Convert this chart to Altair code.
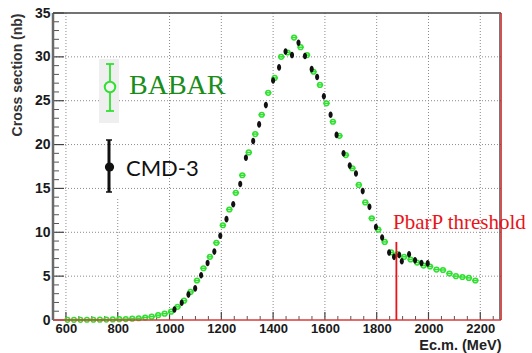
import altair as alt
import pandas as pd

# ---------------- data ----------------
babar_E = [606, 631, 656, 681, 706, 731, 756, 781, 806, 831, 856, 881, 906, 931, 956, 981,
           1006, 1031, 1056, 1081, 1106, 1131, 1156, 1181, 1206, 1231, 1256, 1281, 1306, 1331,
           1356, 1381, 1406, 1431, 1456, 1481, 1506, 1531, 1556, 1581, 1606, 1631, 1656, 1681,
           1706, 1731, 1756, 1781, 1806, 1831, 1856, 1881, 1906, 1931, 1956, 1981, 2006, 2031,
           2056, 2081, 2106, 2131, 2156, 2181]
babar_sigma = [0.02, 0.02, 0.02, 0.03, 0.03, 0.04, 0.05, 0.07, 0.09, 0.11, 0.15, 0.2, 0.28, 0.38,
               0.55, 0.72, 0.95, 1.5, 2.2, 3.2, 4.5, 5.9, 7.2, 8.8, 10.8, 12.6, 14.5, 16.5, 19.1,
               21.2, 23.4, 25.9, 27.6, 30.0, 30.5, 32.2, 31.1, 30.2, 28.3, 26.8, 24.7, 22.6, 21.0,
               18.8, 17.3, 15.4, 13.4, 11.6, 10.3, 8.9, 7.7, 7.5, 7.2, 6.9, 6.55, 6.2, 6.1, 5.75,
               5.7, 5.3, 5.0, 4.9, 4.8, 4.5]
babar_halfbin = 12.5

cmd_E = [1019, 1047, 1073, 1099, 1122, 1147, 1173, 1196, 1220, 1246, 1273, 1295, 1323, 1346,
         1372, 1400, 1423, 1448, 1473, 1498, 1523, 1549, 1570, 1596, 1622, 1645, 1672, 1696,
         1720, 1746, 1772, 1797, 1821, 1848, 1867, 1887, 1897, 1925, 1948, 1973, 1997]
cmd_sigma = [1.2, 1.97, 2.9, 3.6, 5.1, 6.5, 7.8, 9.6, 11.5, 13.2, 15.5, 18.5, 20.4, 22.3,
             24.5, 27.3, 28.8, 30.6, 30.2, 31.6, 30.1, 28.6, 27.7, 25.5, 23.4, 21.1, 19.0, 17.6,
             16.7, 14.7, 12.9, 10.6, 9.4, 7.7, 7.2, 7.4, 6.7, 7.5, 6.8, 6.5, 6.45]

x_ticks = [600, 800, 1000, 1200, 1400, 1600, 1800, 2000, 2200]
x_grid_top = [35, 13.9, 35, 35, 35, 35, 35, 35, 35]
y_ticks = [0, 5, 10, 15, 20, 25, 30, 35]
y_grid = [5, 10, 15, 20, 25, 30]
x_minor = [v for v in range(550, 2251, 50) if v % 200 != 0]
y_minor = [v for v in range(0, 36) if v % 5 != 0]

threshold_E = [1876]
threshold_top = [8.9]

X_DOMAIN = [550, 2280]
Y_DOMAIN = [0, 35]
W, H = 448, 307

GREEN = "#30e030"
GREEN_TEXT = "#1a8c1a"
RED = "#e8141a"
GRID = "#8a8a8a"
FONT = "Liberation Sans"

xs = alt.Scale(domain=X_DOMAIN, nice=False, zero=False)
ys = alt.Scale(domain=Y_DOMAIN, nice=False, zero=False)

X_AX = alt.Axis(
    values=x_ticks, format="d", ticks=False, domain=False, grid=False,
    labelFont=FONT, labelFontSize=13, labelFontWeight="bold", labelColor="#1a1a1a",
    labelPadding=2, labelFlush=False,
    title="Ec.m. (MeV)", titleFont=FONT, titleFontSize=14.5, titleFontWeight="bold",
    titleColor="#222222", titleX=W, titleY=29, titleAlign="right",
    titleBaseline="alphabetic", titleAngle=0)
Y_AX = alt.Axis(
    values=y_ticks, ticks=False, domain=False, grid=False,
    labelFont=FONT, labelFontSize=14, labelFontWeight="bold", labelColor="#1a1a1a",
    labelPadding=3, labelFlush=False,
    title="Cross section (nb)", titleFont=FONT, titleFontSize=14, titleFontWeight="bold",
    titleColor="#333333", titleX=-36, titleY=0, titleAlign="right",
    titleBaseline="middle", titleAngle=270)


def X(f):
    return alt.X(f, scale=xs, axis=X_AX)


def Y(f):
    return alt.Y(f, scale=ys, axis=Y_AX)


one = pd.DataFrame({"k": [0]})

# ---------------- grid ----------------
vgrid_df = pd.DataFrame({"E": x_ticks, "lo": [0] * len(x_ticks), "hi": x_grid_top})
vgrid = alt.Chart(vgrid_df).mark_rule(color=GRID, strokeDash=[1, 2], strokeWidth=1).encode(
    x=X("E:Q"), y=Y("lo:Q"), y2="hi:Q")

hgrid = alt.Chart(pd.DataFrame({"v": y_grid})).mark_rule(
    color=GRID, strokeDash=[1, 2], strokeWidth=1).encode(
    y=Y("v:Q"), x=alt.value(0), x2=alt.value(W))

# ticks (inward)
ytick_minor = alt.Chart(pd.DataFrame({"v": y_minor})).mark_rule(color="#555555", strokeWidth=1).encode(
    y=Y("v:Q"), x=alt.value(0), x2=alt.value(6))
ytick_major = alt.Chart(pd.DataFrame({"v": y_ticks})).mark_rule(color="#444444", strokeWidth=1.2).encode(
    y=Y("v:Q"), x=alt.value(0), x2=alt.value(11))
xtick_minor = alt.Chart(pd.DataFrame({"v": x_minor})).mark_rule(color="#555555", strokeWidth=1).encode(
    x=X("v:Q"), y=alt.value(H), y2=alt.value(H - 4))
xtick_major = alt.Chart(pd.DataFrame({"v": x_ticks})).mark_rule(color="#444444", strokeWidth=1.2).encode(
    x=X("v:Q"), y=alt.value(H), y2=alt.value(H - 8))

# frame
left_b = alt.Chart(one).mark_rule(color="#6a6a6a", strokeWidth=2.5).encode(
    x=alt.value(0), y=alt.value(0), y2=alt.value(H))
top_b = alt.Chart(one).mark_rule(color="#444444", strokeWidth=1.5).encode(
    x=alt.value(0), x2=alt.value(W), y=alt.value(0))
right_g = alt.Chart(one).mark_rule(color="#777777", strokeWidth=1).encode(
    x=alt.value(W - 1.5), y=alt.value(0), y2=alt.value(H))
right_b = alt.Chart(one).mark_rule(color="#c01818", strokeWidth=1.5).encode(
    x=alt.value(W), y=alt.value(0), y2=alt.value(H))
bottom_b = alt.Chart(one).mark_rule(color="#d83a3a", strokeWidth=1.5).encode(
    x=alt.value(0), x2=alt.value(W), y=alt.value(H))

# ---------------- data marks ----------------
babar_df = pd.DataFrame({"E": babar_E, "sigma": babar_sigma})
babar_df["lo"] = babar_df["E"] - babar_halfbin
babar_df["hi"] = babar_df["E"] + babar_halfbin

babar_bars = alt.Chart(babar_df).mark_rule(color=GREEN, strokeWidth=1.5).encode(
    x=X("lo:Q"), x2="hi:Q", y=Y("sigma:Q"))
babar_pts = alt.Chart(babar_df).mark_point(
    shape="circle", size=22, filled=False, color=GREEN, strokeWidth=1.5, opacity=1).encode(
    x=X("E:Q"), y=Y("sigma:Q"))

cmd_df = pd.DataFrame({"E": cmd_E, "sigma": cmd_sigma})
ELLIPSE = "M -0.62 0 A 0.62 1 0 1 0 0.62 0 A 0.62 1 0 1 0 -0.62 0 Z"
cmd_pts = alt.Chart(cmd_df).mark_point(
    shape=ELLIPSE, size=44, filled=True, color="#111111", opacity=1).encode(
    x=X("E:Q"), y=Y("sigma:Q"))

# threshold
thr_df = pd.DataFrame({"E": threshold_E, "lo": [0], "hi": threshold_top})
thr = alt.Chart(thr_df).mark_rule(color=RED, strokeWidth=1.8).encode(
    x=X("E:Q"), y=Y("lo:Q"), y2="hi:Q")
thr_text = alt.Chart(one).mark_text(
    text="PbarP threshold", font="Liberation Serif", fontSize=21, color=RED,
    align="left", baseline="alphabetic").encode(x=alt.value(340), y=alt.value(216))

# ---------------- legend ----------------
leg_box = alt.Chart(one).mark_rect(color="#efefef").encode(
    x=alt.value(46), x2=alt.value(66), y=alt.value(46), y2=alt.value(110))
leg_g_bar = alt.Chart(one).mark_rule(color=GREEN, strokeWidth=1.8).encode(
    x=alt.value(57), y=alt.value(51), y2=alt.value(98))
leg_g_cap1 = alt.Chart(one).mark_rule(color=GREEN, strokeWidth=1.8).encode(
    x=alt.value(53), x2=alt.value(61), y=alt.value(51))
leg_g_cap2 = alt.Chart(one).mark_rule(color=GREEN, strokeWidth=1.8).encode(
    x=alt.value(53), x2=alt.value(61), y=alt.value(98))
leg_g_pt = alt.Chart(one).mark_point(
    shape="circle", size=110, fill="#f4f4f4", stroke=GREEN, strokeWidth=2,
    opacity=1, fillOpacity=1).encode(x=alt.value(57), y=alt.value(74))
leg_g_text = alt.Chart(one).mark_text(
    text="BABAR", font="Liberation Serif", fontSize=28, color=GREEN_TEXT,
    align="left", baseline="alphabetic").encode(x=alt.value(76), y=alt.value(81))

leg_k_bar = alt.Chart(one).mark_rule(color="#111111", strokeWidth=3).encode(
    x=alt.value(56), y=alt.value(127), y2=alt.value(179))
leg_k_cap1 = alt.Chart(one).mark_rule(color="#111111", strokeWidth=1.5).encode(
    x=alt.value(53), x2=alt.value(59), y=alt.value(127))
leg_k_cap2 = alt.Chart(one).mark_rule(color="#111111", strokeWidth=1.5).encode(
    x=alt.value(53), x2=alt.value(59), y=alt.value(179))
leg_k_pt = alt.Chart(one).mark_point(
    shape="circle", size=85, filled=True, color="#111111", opacity=1).encode(
    x=alt.value(56.5), y=alt.value(154))
leg_k_text = alt.Chart(one).mark_text(
    text="CMD-3", font="Lato", fontSize=22, color="#111111",
    align="left", baseline="alphabetic").encode(x=alt.value(73), y=alt.value(163))

chart = alt.layer(
    vgrid, hgrid, ytick_minor, ytick_major, xtick_minor, xtick_major,
    leg_box, leg_g_bar, leg_g_cap1, leg_g_cap2, leg_g_pt, leg_g_text,
    leg_k_bar, leg_k_cap1, leg_k_cap2, leg_k_pt, leg_k_text,
    babar_bars, babar_pts, cmd_pts,
    bottom_b, left_b, top_b, right_g, right_b, thr, thr_text,
).properties(
    width=W, height=H,
    autosize=alt.AutoSizeParams(type="none"),
    padding={"left": 53, "top": 13, "right": 31, "bottom": 33},
    background="white",
).configure_view(stroke=None)

chart.save("out.html", embed_options={"renderer": "svg", "actions": False})
